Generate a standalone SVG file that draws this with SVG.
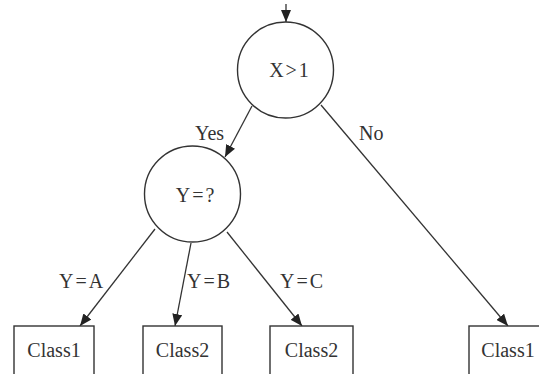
<svg xmlns="http://www.w3.org/2000/svg" width="539" height="374" viewBox="0 0 539 374">
<style>
.n{fill:#fff;stroke:#333;stroke-width:1.4}
.e{fill:none;stroke:#333;stroke-width:1.3;marker-end:url(#ah)}
.m{letter-spacing:2px}
.c{text-anchor:middle}
</style>
<defs>
<marker id="ah" markerUnits="userSpaceOnUse" markerWidth="12" markerHeight="10" refX="12" refY="5" orient="auto">
<path d="M0,0 L12,5 L0,10 z" fill="#222"/>
</marker>
</defs>
<rect width="539" height="374" fill="#fff"/>
<g font-family="Liberation Serif, Times New Roman, serif" font-size="20" fill="#333">
<g id="connectors">
<line class="e" x1="286" y1="4" x2="286" y2="22"/>
<line class="e" x1="252" y1="106" x2="225" y2="157"/>
<line class="e" x1="321" y1="105" x2="508" y2="326"/>
<line class="e" x1="155" y1="229" x2="80" y2="326"/>
<line class="e" x1="191" y1="243" x2="175" y2="326"/>
<line class="e" x1="227" y1="232" x2="302" y2="326"/>
<text x="195" y="140">Yes</text>
<text x="359" y="140">No</text>
<text class="m" x="59" y="288">Y=A</text>
<text class="m" x="187" y="288">Y=B</text>
<text class="m" x="280" y="288">Y=C</text>
</g>
<g id="root">
<circle class="n" cx="285.5" cy="70" r="48"/>
<text class="m c" x="290" y="77">X&gt;1</text>
</g>
<g id="y">
<circle class="n" cx="192.5" cy="194" r="48"/>
<text class="m c" x="196" y="202">Y=?</text>
</g>
<g id="leaf1">
<rect class="n" x="14" y="326" width="80" height="60"/>
<text class="c" x="54" y="357">Class1</text>
</g>
<g id="leaf2">
<rect class="n" x="143" y="326" width="79" height="60"/>
<text class="c" x="182.5" y="357">Class2</text>
</g>
<g id="leaf3">
<rect class="n" x="270" y="326" width="83" height="60"/>
<text class="c" x="311.5" y="357">Class2</text>
</g>
<g id="leaf4">
<rect class="n" x="469" y="326" width="80" height="60"/>
<text class="c" x="508" y="357">Class1</text>
</g>
</g>
</svg>
